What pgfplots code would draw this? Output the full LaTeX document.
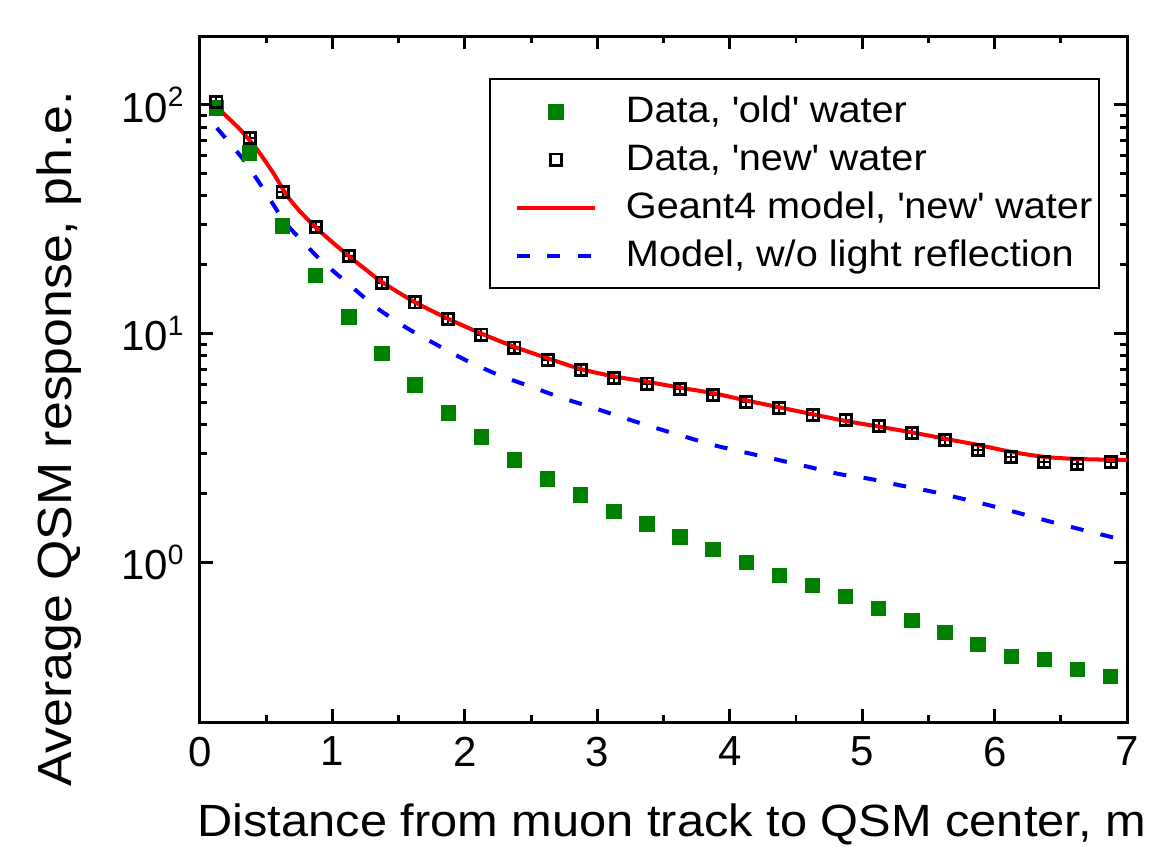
\documentclass[12pt,border=0pt]{standalone}
\usepackage{fontspec}
\setmainfont{Liberation Sans}
\newfontfamily\labfont[FakeStretch=1.08]{Liberation Sans}
\usepackage{pgfplots}
\usepackage{pgfplotstable}
\pgfplotsset{compat=1.18}
\definecolor{dgreen}{RGB}{0,128,0}

% legend samples: wider cell, marker centred over the line sample
\pgfplotsset{
  legmark/.style={legend image code/.code={\path (0pt,0pt) (35.7pt,0pt);
    \draw[##1] plot coordinates {(17.3pt,0pt)};}},
  legline/.style={legend image code/.code={\path (0pt,0pt) (35.7pt,0pt);
    \draw[##1] (6.1pt,0pt) -- (28.4pt,0pt);}},
}

% old water: x, y
\pgfplotstableread{
x y
0.125 97
0.375 61.5
0.625 29.5
0.875 18.0
1.125 11.8
1.375 8.17
1.625 5.97
1.875 4.50
2.125 3.53
2.375 2.80
2.625 2.31
2.875 1.97
3.125 1.67
3.375 1.47
3.625 1.29
3.875 1.14
4.125 1.00
4.375 0.877
4.625 0.793
4.875 0.71
5.125 0.629
5.375 0.557
5.625 0.493
5.875 0.437
6.125 0.387
6.375 0.376
6.625 0.340
6.875 0.316
}\oldwater

% new water
\pgfplotstableread{
x y
0.125 103
0.375 71.7
0.625 41.5
0.875 29.2
1.125 21.8
1.375 16.7
1.625 13.7
1.875 11.6
2.125 9.9
2.375 8.68
2.625 7.69
2.875 6.95
3.125 6.41
3.375 6.05
3.625 5.74
3.875 5.40
4.125 5.03
4.375 4.73
4.625 4.41
4.875 4.19
5.125 3.95
5.375 3.68
5.625 3.43
5.875 3.10
6.125 2.89
6.375 2.75
6.625 2.69
6.875 2.75
}\newwater

% Geant4 model
\pgfplotstableread{
x y
0.125 98
0.3 78.5
0.43 64
0.55 50.8
0.657 40.2
0.75 34.5
0.875 29.1
1.0 25.1
1.125 21.8
1.25 19.1
1.375 16.8
1.625 13.7
1.875 11.6
2.125 10.0
2.375 8.75
2.625 7.8
2.875 7.0
3.125 6.5
3.375 6.16
3.625 5.80
3.875 5.49
4.125 5.10
4.375 4.76
4.625 4.44
4.875 4.15
5.125 3.92
5.375 3.70
5.625 3.47
5.875 3.26
6.125 3.04
6.375 2.89
6.625 2.83
7.0 2.80
}\geant

% model without reflection
\pgfplotstableread{
x y
0.128 79.3
0.325 58
0.49 42
0.642 30.7
0.846 22.9
0.93 20.5
1.11 16.7
1.34 12.9
1.56 10.6
1.80 8.86
2.03 7.54
2.27 6.54
2.50 5.86
2.73 5.24
2.97 4.74
3.20 4.28
3.44 3.87
3.67 3.53
3.90 3.23
4.13 3.01
4.37 2.80
4.60 2.61
4.83 2.43
5.07 2.31
5.27 2.18
5.54 2.03
6.02 1.74
6.47 1.48
7.0 1.24
}\norefl

\begin{document}
\begin{tikzpicture}
\begin{semilogyaxis}[
  name=ax,
  scale only axis,
  width=264.9pt, height=196pt,
  xmin=0, xmax=7, ymin=0.2, ymax=200,
  xtick={0,1,...,7},
  minor x tick num=1,
  ytick={1,10,100},
  yticklabels={10\textsuperscript{0},10\textsuperscript{1},10\textsuperscript{2}},
  /pgf/number format/assume math mode=true,
  tick align=inside,
  major tick length=3.8pt,
  minor tick length=2pt,
  axis line style={line width=0.85pt},
  every tick/.style={line width=0.85pt, black},
  xlabel={Distance from muon track to QSM center, m},
  ylabel={Average QSM response, ph.e.},
  xlabel style={at={(ticklabel cs:0.509,2.3pt)}, font=\labfont\fontsize{12.9}{15}\selectfont},
  ylabel style={at={(ticklabel cs:0.413,3pt)}, font=\labfont\fontsize{13.7}{16}\selectfont},
  legend cell align=left,
  legend style={at={(1,1)}, anchor=north east, xshift=-7.7pt, yshift=-12pt,
    draw=black, line width=0.5pt, inner xsep=1pt, inner ysep=2.5pt,
    font=\labfont\fontsize{10.5}{12}\selectfont,
    nodes={inner xsep=1pt, inner ysep=1.2pt, text height=8.7pt, text depth=2.6pt}},
]
\addplot[only marks, mark=square*, mark size=2pt, color=dgreen, legmark,
  error bars/.cd, y dir=both, y explicit relative, error mark=none,
  error bar style={line width=0.6pt}]
  table[x=x, y=y, y error expr=0.05] {\oldwater};
\addlegendentry{Data, \textquotesingle old\textquotesingle\ water}
\addplot[only marks, mark=square, mark size=1.6pt, mark options={line width=0.8pt}, color=black, legmark,
  error bars/.cd, y dir=both, x dir=both, y explicit relative, x explicit, error mark=none,
  error bar style={line width=0.6pt}]
  table[x=x, y=y, x error expr=0.045, y error expr=0.06] {\newwater};
\addlegendentry{Data, \textquotesingle new\textquotesingle\ water}
\addplot[red, line width=1.15pt, smooth, tension=0.4, legline]
  table[x=x, y=y] {\geant};
\addlegendentry{Geant4 model, \textquotesingle new\textquotesingle\ water}
\addplot[blue, line width=1.15pt, dash pattern=on 3.7pt off 5pt, smooth, tension=0.4, legline]
  table[x=x, y=y] {\norefl};
\addlegendentry{Model, w/o light reflection}
\end{semilogyaxis}
\pgfresetboundingbox
\path ([shift={(-57.1pt,-35.4pt)}]ax.south west) ([shift={(7.1pt,10.3pt)}]ax.north east);
\end{tikzpicture}
\end{document}
